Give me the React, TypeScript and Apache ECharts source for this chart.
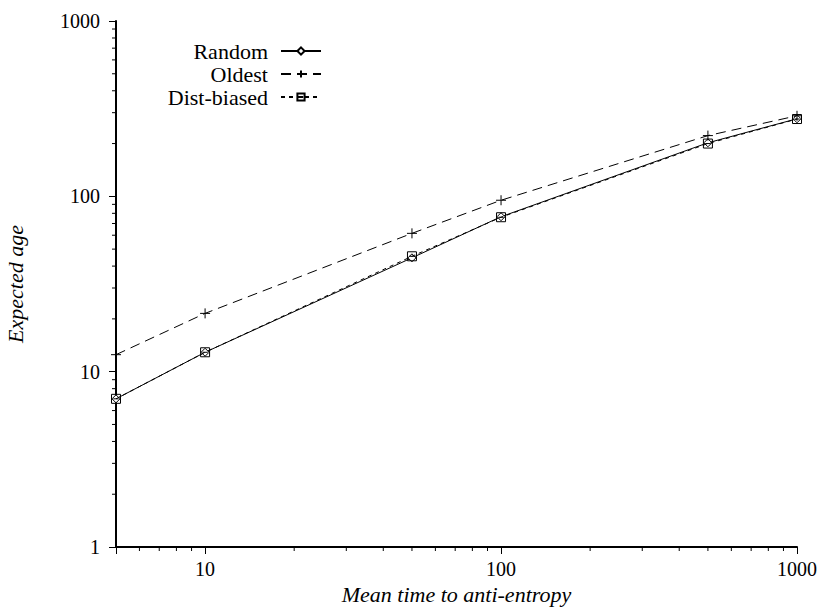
import React, { useEffect, useRef } from 'react';
import * as echarts from 'echarts';

const meanTime = [5, 10, 50, 100, 500, 1000];
const randomAge = [7.0, 12.9, 44.6, 76.5, 202, 277];
const oldestAge = [12.5, 21.5, 61.5, 95, 222, 288];
const distBiasedAge = [7.0, 12.9, 45.5, 76, 200, 276];
const seriesNames = ['Random', 'Oldest', 'Dist-biased'];
const decades = [1, 10, 100];
const minorMultipliers = [2, 3, 4, 5, 6, 7, 8, 9];
const xMin = 5;
const xMax = 1000;
const yMin = 1;
const yMax = 1000;

const FONT = "'Liberation Serif', 'Times New Roman', serif";

export default function App() {
  const ref = useRef<HTMLDivElement>(null);
  useEffect(() => {
    if (!ref.current) return;
    const chart = echarts.init(ref.current, null, { renderer: 'svg' });
    const minorVals: number[] = [];
    decades.forEach((d) => minorMultipliers.forEach((m) => minorVals.push(d * m)));
    const xMinor = minorVals.filter((v) => v > xMin && v < xMax).map((v) => [v, yMin]);
    const yMinor = minorVals.filter((v) => v > yMin && v < yMax).map((v) => [xMin, v]);
    const isPow10 = (v: number) => Math.abs(Math.log10(v) - Math.round(Math.log10(v))) < 1e-6;
    const mk = (xs: number[], ys: number[]) => xs.map((x, i) => [x, ys[i]]);

    chart.setOption({
      animation: false,
      backgroundColor: '#fff',
      textStyle: { fontFamily: FONT, color: '#000' },
      grid: { left: 116, right: 26, top: 21, bottom: 60, containLabel: false, outerBoundsMode: 'none' },
      legend: {
        data: seriesNames,
        orient: 'vertical',
        align: 'right',
        right: 496,
        top: 35,
        itemWidth: 40,
        itemHeight: 9,
        itemGap: 1,
        textStyle: { fontFamily: FONT, fontSize: 22, lineHeight: 21, color: '#000', padding: [0, 8, 0, 0] },
        inactiveColor: '#000',
      },
      xAxis: {
        type: 'log',
        logBase: 10,
        min: xMin,
        max: xMax,
        name: 'Mean time to anti-entropy',
        nameLocation: 'middle',
        nameGap: 27,
        nameTextStyle: { fontFamily: FONT, fontSize: 22, fontStyle: 'italic', color: '#000' },
        axisLine: { show: true, lineStyle: { color: '#000', width: 2 } },
        axisTick: { show: true, length: 7, lineStyle: { color: '#000', width: 1 } },
        axisLabel: {
          fontFamily: FONT,
          fontSize: 20,
          color: '#000',
          margin: 12,
          formatter: (v: number) => (isPow10(v) && v >= 10 ? String(Math.round(v)) : ''),
        },
        splitLine: { show: false },
      },
      yAxis: {
        type: 'log',
        logBase: 10,
        min: yMin,
        max: yMax,
        name: 'Expected age',
        nameLocation: 'middle',
        nameGap: 90,
        nameRotate: 90,
        nameTextStyle: { fontFamily: FONT, fontSize: 22, fontStyle: 'italic', color: '#000' },
        axisLine: { show: true, lineStyle: { color: '#000', width: 2 } },
        axisTick: { show: true, length: 7, lineStyle: { color: '#000', width: 1 } },
        axisLabel: {
          fontFamily: FONT,
          fontSize: 20,
          color: '#000',
          margin: 16,
          formatter: (v: number) => (isPow10(v) ? String(Math.round(v)) : ''),
        },
        splitLine: { show: false },
      },
      series: [
        {
          name: 'Random',
          type: 'line',
          data: mk(meanTime, randomAge),
          symbol: 'diamond',
          symbolSize: 8,
          showAllSymbol: true,
          lineStyle: { color: '#000', width: 1, type: 'solid' },
          itemStyle: { color: '#fff', borderColor: '#000', borderWidth: 1 },
          z: 3,
        },
        {
          name: 'Oldest',
          type: 'line',
          data: mk(meanTime, oldestAge),
          symbol: 'path://M5,0L5,10M0,5L10,5',
          symbolSize: 10,
          lineStyle: { color: '#000', width: 1, type: [10, 6] },
          itemStyle: { color: 'none', borderColor: '#000', borderWidth: 1 },
          z: 3,
        },
        {
          name: 'Dist-biased',
          type: 'line',
          data: mk(meanTime, distBiasedAge),
          symbol: 'path://M0,0L10,0L10,10L0,10ZM2,5L8,5',
          symbolSize: 9,
          lineStyle: { color: '#000', width: 1, type: [4, 4] },
          itemStyle: { color: 'none', borderColor: '#000', borderWidth: 1 },
          z: 4,
        },
        {
          name: 'xMinorTicks',
          type: 'custom',
          data: xMinor,
          clip: false,
          silent: true,
          renderItem: (params: any, api: any) => {
            const p = api.coord([api.value(0), api.value(1)]);
            return {
              type: 'line',
              shape: { x1: p[0], y1: p[1], x2: p[0], y2: p[1] + 4 },
              style: { stroke: '#000', lineWidth: 1 },
            };
          },
        },
        {
          name: 'yMinorTicks',
          type: 'custom',
          data: yMinor,
          clip: false,
          silent: true,
          renderItem: (params: any, api: any) => {
            const p = api.coord([api.value(0), api.value(1)]);
            return {
              type: 'line',
              shape: { x1: p[0] - 4, y1: p[1], x2: p[0], y2: p[1] },
              style: { stroke: '#000', lineWidth: 1 },
            };
          },
        },
      ],
    });
    return () => chart.dispose();
  }, []);
  return (
    <div
      ref={ref}
      style={{ position: 'absolute', left: 0, top: 0, width: 823, height: 607, background: '#fff' }}
    />
  );
}
